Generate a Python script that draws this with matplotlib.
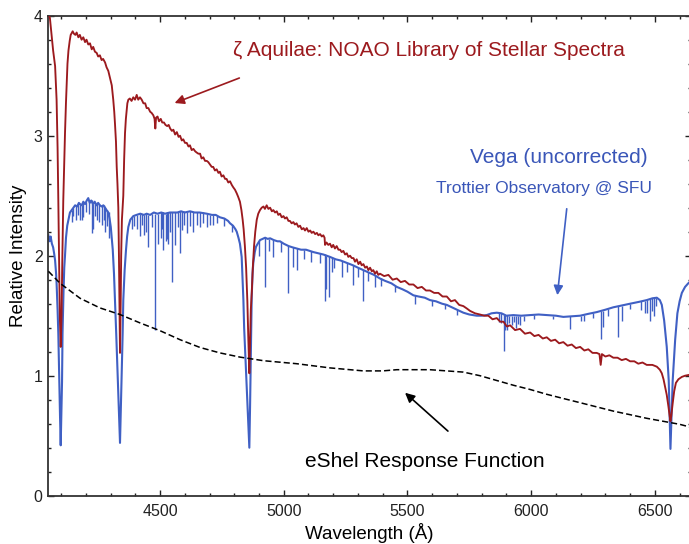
import matplotlib
matplotlib.use("Agg")
import matplotlib.pyplot as plt
from matplotlib.ticker import MultipleLocator

plt.rcParams['font.family'] = ['Liberation Sans', 'DejaVu Sans']

# ---------------- data ----------------
zaql_wl = [4049, 4055, 4062, 4068, 4076, 4082, 4086, 4089, 4092, 4095, 4098.6, 4102, 4105, 4109,
           4113, 4116, 4120, 4123, 4126, 4130, 4135, 4139, 4147, 4152, 4158, 4163, 4170, 4176,
           4183, 4190, 4197, 4203, 4210, 4217, 4224, 4230, 4237, 4244, 4250, 4257, 4264, 4270,
           4278, 4284, 4291, 4298, 4305, 4311, 4315, 4318, 4322, 4325, 4328, 4331.5, 4334, 4336,
           4338.3, 4341, 4343, 4346, 4351.6, 4355, 4358.5, 4362, 4365, 4368, 4372, 4378, 4385,
           4392, 4399, 4405.8, 4412, 4419, 4426, 4433, 4440, 4446, 4453, 4460, 4466, 4473, 4478,
           4481, 4484, 4490, 4496, 4503, 4509, 4516, 4522, 4529, 4535, 4541, 4548, 4554, 4561,
           4568, 4575, 4581, 4588, 4594, 4601, 4608, 4615, 4621, 4628, 4635, 4642, 4648, 4655,
           4662, 4668, 4675, 4682, 4689, 4695, 4702, 4709, 4715, 4722, 4729, 4736, 4742, 4749,
           4756, 4763, 4769, 4776, 4783, 4790, 4796, 4803, 4810, 4816, 4823, 4829, 4834, 4838,
           4843, 4848, 4853, 4857, 4861, 4864, 4867, 4871, 4875, 4880, 4885, 4891, 4897, 4904,
           4911, 4918, 4924, 4931, 4938, 4945, 4952, 4958, 4965, 4972, 4978, 4985, 4992, 4999,
           5005, 5012, 5019, 5025, 5032, 5039, 5045, 5052, 5059, 5066, 5073, 5080, 5086, 5093,
           5100, 5107, 5113, 5120, 5127, 5134, 5140, 5147, 5154, 5160, 5165, 5167, 5173, 5180,
           5187, 5194, 5200, 5207, 5214, 5221, 5228, 5234, 5241, 5248, 5255, 5261, 5268, 5275,
           5282, 5288, 5295, 5302, 5309, 5315, 5322, 5329, 5336, 5342, 5349, 5356, 5362, 5369,
           5376, 5382, 5389, 5406, 5423, 5440, 5457, 5473, 5490, 5507, 5524, 5541, 5558, 5575,
           5591, 5608, 5625, 5642, 5659, 5676, 5692, 5709, 5726, 5740, 5753, 5773, 5793, 5810,
           5827, 5844, 5861, 5875, 5888, 5902, 5915, 5935, 5955, 5975, 5996, 6013, 6030, 6047,
           6063, 6080, 6097, 6113, 6130, 6147, 6164, 6181, 6198, 6215, 6231, 6248, 6265, 6276,
           6281, 6286, 6300, 6316, 6332, 6349, 6366, 6383, 6400, 6417, 6433, 6450, 6467, 6490,
           6508, 6520, 6528, 6535, 6541, 6548, 6555, 6560, 6563, 6566, 6572, 6578, 6585, 6595,
           6609, 6622, 6646]
zaql_flux = [4.02, 3.98, 3.83, 3.71, 3.58, 3.30, 2.90, 2.46, 1.95, 1.50, 1.24, 1.50, 1.95, 2.46,
             2.80, 3.02, 3.28, 3.44, 3.60, 3.71, 3.79, 3.84, 3.87, 3.85, 3.84, 3.86, 3.82, 3.84,
             3.80, 3.82, 3.78, 3.80, 3.76, 3.77, 3.72, 3.74, 3.70, 3.69, 3.66, 3.67, 3.63, 3.64,
             3.61, 3.57, 3.54, 3.48, 3.42, 3.30, 3.20, 3.10, 2.95, 2.74, 2.60, 2.40, 2.00, 1.60,
             1.19, 1.60, 2.00, 2.30, 2.50, 2.80, 3.02, 3.14, 3.21, 3.27, 3.30, 3.31, 3.29,
             3.32, 3.30, 3.34, 3.30, 3.32, 3.30, 3.27, 3.27, 3.23, 3.23, 3.20, 3.19, 3.17, 3.14,
             3.06, 3.15, 3.16, 3.12, 3.14, 3.11, 3.11, 3.09, 3.08, 3.09, 3.06, 3.04, 3.05, 3.01,
             3.03, 2.99, 3.00, 2.96, 2.97, 2.94, 2.94, 2.91, 2.92, 2.88, 2.89, 2.87, 2.86, 2.85,
             2.85, 2.81, 2.82, 2.79, 2.79, 2.78, 2.76, 2.74, 2.74, 2.71, 2.72, 2.69, 2.70, 2.66,
             2.67, 2.64, 2.64, 2.61, 2.62, 2.59, 2.57, 2.55, 2.52, 2.49, 2.45, 2.38, 2.30, 2.22,
             2.08, 1.90, 1.62, 1.30, 1.02, 1.28, 1.55, 1.70, 1.90, 2.08, 2.20, 2.30, 2.35, 2.38,
             2.40, 2.41, 2.39, 2.42, 2.39, 2.40, 2.37, 2.38, 2.36, 2.37, 2.34, 2.35, 2.32, 2.33,
             2.31, 2.32, 2.29, 2.29, 2.27, 2.28, 2.26, 2.27, 2.24, 2.25, 2.22, 2.23, 2.21, 2.23,
             2.20, 2.21, 2.19, 2.20, 2.18, 2.19, 2.17, 2.18, 2.16, 2.17, 2.15, 2.09, 2.11, 2.09,
             2.10, 2.07, 2.09, 2.06, 2.08, 2.05, 2.05, 2.03, 2.04, 2.01, 2.02, 1.99, 2.00, 1.98,
             1.98, 1.95, 1.97, 1.93, 1.95, 1.92, 1.93, 1.90, 1.91, 1.88, 1.90, 1.87, 1.88, 1.85,
             1.87, 1.84, 1.85, 1.83, 1.84, 1.80, 1.81, 1.78, 1.79, 1.76, 1.76, 1.73, 1.74, 1.71,
             1.71, 1.69, 1.69, 1.66, 1.66, 1.62, 1.63, 1.59, 1.58, 1.56, 1.54, 1.52, 1.51, 1.50,
             1.50, 1.47, 1.48, 1.45, 1.45, 1.41, 1.42, 1.38, 1.39, 1.35, 1.36, 1.33, 1.34, 1.31,
             1.32, 1.29, 1.30, 1.27, 1.28, 1.25, 1.26, 1.23, 1.24, 1.21, 1.22, 1.19, 1.19, 1.18,
             1.09, 1.18, 1.16, 1.17, 1.15, 1.15, 1.13, 1.14, 1.12, 1.12, 1.10, 1.11, 1.09, 1.09,
             1.075, 1.05, 1.02, 0.97, 0.91, 0.84, 0.74, 0.66, 0.62, 0.66, 0.77, 0.87, 0.94, 0.97,
             0.99, 1.00, 1.01]

vega_wl = [4049, 4053, 4058, 4063, 4068, 4072, 4076, 4080, 4082, 4086, 4089, 4093, 4096, 4098.6,
           4101, 4104, 4106, 4110, 4113, 4116, 4120, 4125, 4130, 4136, 4143, 4150, 4157, 4165,
           4172, 4177, 4184, 4190, 4197, 4204, 4210, 4216, 4222, 4229, 4236, 4243, 4250, 4257,
           4264, 4271, 4278, 4284, 4291, 4296, 4301, 4305, 4309, 4314, 4318, 4323, 4327.5, 4333,
           4338.3, 4342, 4346, 4349, 4351.6, 4357, 4362.6, 4367, 4372, 4380, 4392, 4405, 4420,
           4435, 4446, 4460, 4475, 4490, 4505, 4520, 4540, 4554, 4570, 4585, 4600, 4621, 4640,
           4660, 4689, 4710, 4725, 4742, 4760, 4775, 4783, 4795, 4805, 4810, 4817, 4823, 4830,
           4837, 4840, 4844, 4850, 4855, 4861, 4864, 4866.5, 4870.6, 4874, 4877, 4883, 4888,
           4895, 4904, 4915, 4925, 4935, 4945, 4960, 4975, 4985, 5000, 5020, 5035, 5052, 5070,
           5090, 5105, 5120, 5140, 5160, 5187, 5210, 5230, 5255, 5280, 5300, 5322, 5345, 5365,
           5389, 5410, 5435, 5457, 5480, 5500, 5524, 5545, 5570, 5591, 5615, 5640, 5659, 5680,
           5700, 5726, 5750, 5780, 5800, 5820, 5840, 5861, 5880, 5900, 5928, 5960, 5996, 6030,
           6063, 6100, 6130, 6165, 6198, 6230, 6265, 6300, 6332, 6365, 6400, 6435, 6467, 6490,
           6508, 6520, 6528, 6537.5, 6548, 6556, 6563, 6572, 6582, 6591, 6600, 6609, 6622, 6635,
           6646]
vega_flux = [2.17, 2.12, 2.16, 2.10, 2.07, 2.02, 1.96, 1.85, 1.77, 1.55, 1.35, 0.94, 0.65, 0.42,
             0.65, 0.95, 1.35, 1.70, 1.90, 2.00, 2.15, 2.25, 2.30, 2.36, 2.38, 2.40, 2.42, 2.41,
             2.44, 2.43, 2.42, 2.45, 2.43, 2.46, 2.48, 2.44, 2.46, 2.43, 2.45, 2.42, 2.44, 2.42,
             2.41, 2.42, 2.40, 2.38, 2.36, 2.31, 2.24, 2.15, 2.05, 1.85, 1.63, 1.35, 1.075, 0.75,
             0.44, 0.75, 1.075, 1.35, 1.63, 1.88, 2.05, 2.16, 2.24, 2.30, 2.33, 2.34, 2.35,
             2.34, 2.35, 2.34, 2.36, 2.35, 2.36, 2.35, 2.36, 2.36, 2.36, 2.37, 2.36, 2.37, 2.36,
             2.36, 2.35, 2.34, 2.34, 2.32, 2.31, 2.29, 2.27, 2.25, 2.22, 2.20, 2.15, 2.10, 1.99,
             1.63, 1.40, 1.21, 0.94, 0.70, 0.40, 0.75, 1.10, 1.66, 1.85, 1.94, 2.03, 2.075,
             2.10, 2.13, 2.14, 2.15, 2.14, 2.145, 2.13, 2.12, 2.12, 2.10, 2.08, 2.07, 2.06, 2.05,
             2.05, 2.04, 2.03, 2.02, 2.01, 1.99, 1.97, 1.96, 1.94, 1.92, 1.90, 1.88, 1.86, 1.84,
             1.81, 1.79, 1.77, 1.74, 1.72, 1.70, 1.67, 1.66, 1.65, 1.63, 1.62, 1.60, 1.59, 1.57,
             1.55, 1.525, 1.51, 1.50, 1.50, 1.505, 1.52, 1.525, 1.52, 1.50, 1.505, 1.50, 1.505, 1.51,
             1.505, 1.50, 1.49, 1.495, 1.50, 1.515, 1.53, 1.55, 1.57, 1.585, 1.60, 1.615, 1.63, 1.645,
             1.65, 1.63, 1.59, 1.46, 1.24, 0.96, 0.39, 0.96, 1.30, 1.52, 1.62, 1.69, 1.74, 1.77,
             1.79]

# narrow absorption features in the Vega spectrum (wavelength, top, bottom)
vega_line_wl = [4143, 4150, 4160, 4168, 4177, 4184, 4190, 4200, 4215, 4224, 4231, 4238, 4245,
                4252, 4264, 4272, 4278, 4284, 4292,
                4386, 4395, 4406, 4419, 4428, 4435, 4444, 4453, 4468, 4481, 4493, 4502, 4508,
                4513, 4524, 4530, 4534, 4541, 4549, 4561, 4572, 4581, 4590, 4596, 4608, 4620,
                4635, 4648, 4662, 4672, 4689, 4703, 4716, 4730, 4757, 4790,
                4900, 4924, 4940, 4956, 4990, 5019, 5039, 5052, 5080, 5110, 5145, 5167, 5172,
                5183, 5194, 5205, 5234, 5255, 5279, 5300, 5319, 5340, 5369, 5395, 5450, 5531,
                5600, 5650, 5700,
                5870, 5880, 5890, 5896, 5901, 5910, 5921, 5930, 5939, 5947, 5955, 5970, 6010,
                6090, 6157, 6200, 6215, 6250, 6281, 6292, 6310, 6352, 6366, 6400, 6445, 6460,
                6470, 6480, 6488, 6497, 6505]
vega_line_top = [2.38, 2.40, 2.41, 2.43, 2.43, 2.42, 2.45, 2.45, 2.46, 2.46, 2.43, 2.45, 2.43,
                 2.43, 2.41, 2.42, 2.40, 2.38, 2.36,
                 2.32, 2.33, 2.34, 2.35, 2.35, 2.34, 2.35, 2.34, 2.35, 2.35, 2.35, 2.36, 2.36,
                 2.36, 2.35, 2.36, 2.36, 2.36, 2.36, 2.36, 2.36, 2.37, 2.37, 2.37, 2.36, 2.37,
                 2.36, 2.36, 2.36, 2.36, 2.35, 2.34, 2.34, 2.33, 2.31, 2.26,
                 2.12, 2.15, 2.14, 2.13, 2.11, 2.08, 2.07, 2.06, 2.05, 2.04, 2.02, 2.01, 2.00,
                 2.00, 1.99, 1.97, 1.96, 1.94, 1.92, 1.90, 1.88, 1.86, 1.84, 1.81, 1.75, 1.67,
                 1.63, 1.60, 1.55,
                 1.52, 1.52, 1.51, 1.51, 1.51, 1.50, 1.50, 1.50, 1.50, 1.50, 1.50, 1.50, 1.51,
                 1.50, 1.50, 1.50, 1.51, 1.52, 1.54, 1.54, 1.56, 1.58, 1.585, 1.60, 1.62, 1.625,
                 1.63, 1.64, 1.645, 1.645, 1.65]
vega_line_bottom = [2.28, 2.33, 2.30, 2.34, 2.30, 2.30, 2.32, 2.36, 2.35, 2.19, 2.22, 2.33, 2.30,
                    2.28, 2.26, 2.30, 2.20, 2.25, 2.15,
                    2.22, 2.25, 2.22, 2.16, 2.26, 2.17, 2.20, 2.075, 2.24, 1.38, 2.10, 2.15, 2.22,
                    2.05, 2.12, 2.14, 2.10, 2.20, 1.78, 2.09, 2.24, 2.02, 2.21, 2.26, 2.19, 2.25,
                    2.20, 2.26, 2.24, 2.27, 2.24, 2.26, 2.255, 2.27, 2.25, 2.20,
                    2.00, 1.74, 2.04, 1.99, 2.03, 1.69, 1.91, 1.88, 1.97, 1.95, 1.94, 1.62, 1.72,
                    1.66, 1.86, 1.90, 1.825, 1.86, 1.76, 1.82, 1.62, 1.79, 1.74, 1.75, 1.70, 1.60,
                    1.58, 1.56, 1.51,
                    1.45, 1.44, 1.21, 1.38, 1.38, 1.44, 1.42, 1.45, 1.40, 1.43, 1.42, 1.46, 1.47,
                    1.47, 1.39, 1.46, 1.46, 1.48, 1.31, 1.41, 1.50, 1.325, 1.46, 1.56, 1.55, 1.52,
                    1.52, 1.46, 1.54, 1.50, 1.58]

resp_wl = [4049, 4096, 4177, 4257, 4338, 4419, 4500, 4581, 4662, 4742, 4823, 4918, 5052, 5187,
           5268, 5322, 5400, 5457, 5591, 5726, 5793, 5861, 5929, 5996, 6063, 6130, 6198, 6265,
           6332, 6400, 6467, 6534, 6600, 6646]
resp_val = [1.87, 1.77, 1.645, 1.565, 1.51, 1.44, 1.375, 1.30, 1.235, 1.19, 1.155, 1.125, 1.10,
            1.065, 1.05, 1.04, 1.04, 1.05, 1.05, 1.03, 1.00, 0.96, 0.92, 0.885, 0.845, 0.81,
            0.775, 0.74, 0.705, 0.675, 0.645, 0.62, 0.595, 0.57]

x_major = [4500, 5000, 5500, 6000, 6500]
y_major = [0, 1, 2, 3, 4]

# ---------------- style ----------------
RED = '#9c1a1e'
BLUE = '#4060c4'
TXT_BLUE = '#3a56b8'

fig = plt.figure(figsize=(6.89, 5.44), dpi=100)
ax = fig.add_axes([48.3 / 689, (544 - 495.7) / 544, (691 - 48.3) / 689, 480 / 544])

ax.plot(zaql_wl, zaql_flux, color=RED, lw=1.35, zorder=3)
ax.plot(vega_wl, vega_flux, color=BLUE, lw=1.5, zorder=2)
ax.vlines(vega_line_wl, vega_line_bottom, vega_line_top, color=BLUE, lw=1.0, zorder=2)
ax.plot(resp_wl, resp_val, color='black', lw=1.1, ls=(0, (4, 2)), zorder=4)

ax.set_xlim(4048.5, 6646)
ax.set_ylim(0, 4)
ax.set_xticks(x_major)
ax.set_yticks(y_major)
ax.xaxis.set_minor_locator(MultipleLocator(100))
ax.yaxis.set_minor_locator(MultipleLocator(0.2))
ax.tick_params(which='both', direction='in', top=True, right=True, labelsize=11.5,
               colors='#222222', width=1.0)
ax.tick_params(which='major', length=4.5)
ax.tick_params(which='minor', length=2.5)
ax.tick_params(axis='x', pad=6)
ax.tick_params(axis='y', pad=4)
for s in ax.spines.values():
    s.set_linewidth(1.3)
    s.set_color('#333333')

ax.set_xlabel('Wavelength (Å)', fontsize=13.5, labelpad=3)
ax.set_ylabel('Relative Intensity', fontsize=13.5, labelpad=5)

ax.text(5585, 3.714, 'ζ Aquilae: NOAO Library of Stellar Spectra', color=RED,
        fontsize=15, ha='center', va='center')
ax.annotate('', xy=(4548.5, 3.264), xytext=(4831, 3.489),
            arrowprops=dict(arrowstyle='-|>', color=RED, lw=1.2, mutation_scale=14))

ax.text(6113, 2.822, 'Vega (uncorrected)', color=TXT_BLUE, fontsize=15,
        ha='center', va='center')
ax.text(6050, 2.564, 'Trottier Observatory @ SFU', color=TXT_BLUE, fontsize=12.5,
        ha='center', va='center')
ax.annotate('', xy=(6104.7, 1.648), xytext=(6145, 2.414),
            arrowprops=dict(arrowstyle='-|>', color=BLUE, lw=1.2, mutation_scale=14))

ax.text(5571, 0.281, 'eShel Response Function', color='black', fontsize=15,
        ha='center', va='center')
ax.annotate('', xy=(5482, 0.873), xytext=(5672, 0.523),
            arrowprops=dict(arrowstyle='-|>', color='black', lw=1.2, mutation_scale=14))

fig.savefig('out.png', dpi=100)
